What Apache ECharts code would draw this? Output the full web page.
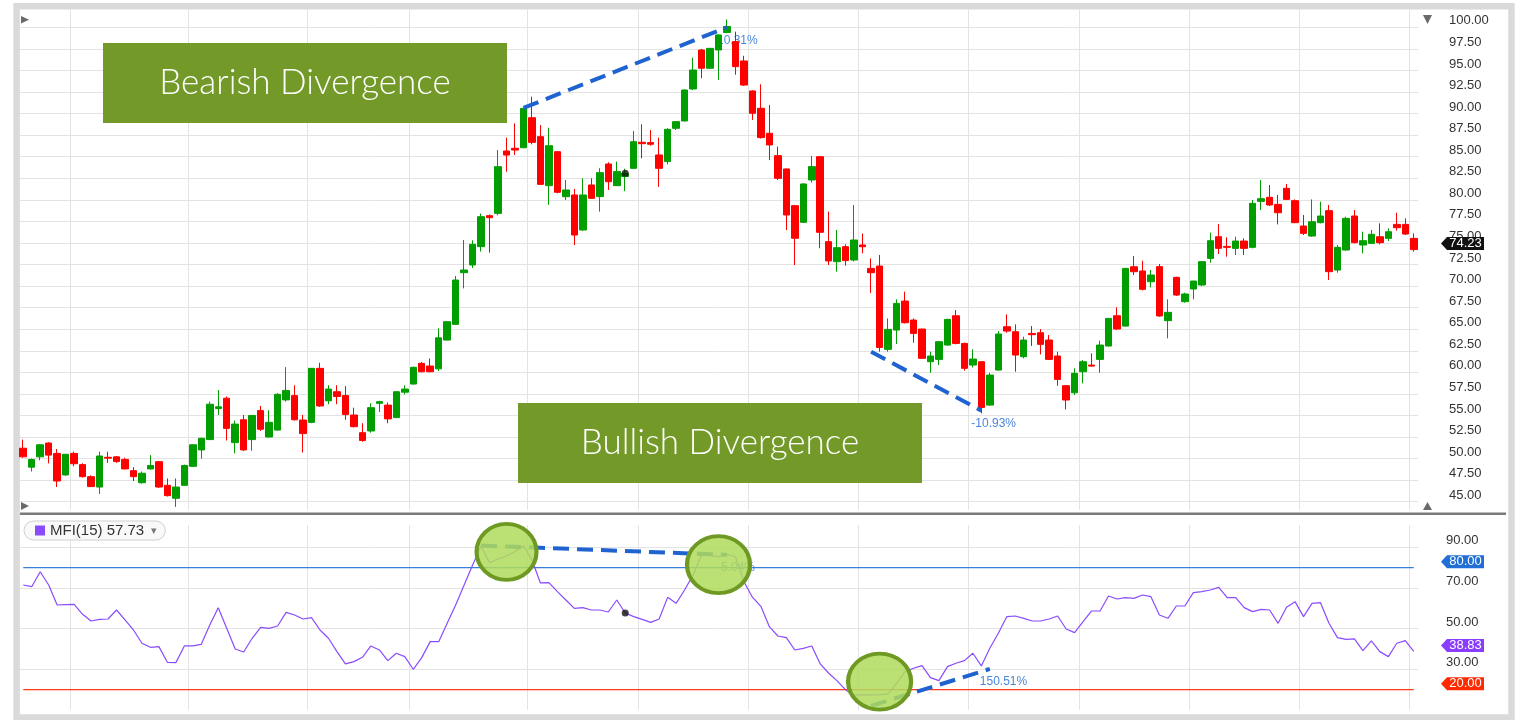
<!DOCTYPE html>
<html>
<head>
<meta charset="utf-8">
<title>MFI divergence</title>
<script src="https://cdn.jsdelivr.net/npm/echarts@6/dist/echarts.min.js"></script>
<style>
  html, body { margin: 0; padding: 0; background: #fff; }
  #chart { width: 1516px; height: 720px; }
</style>
</head>
<body>
<div id="chart"></div>
<script>
// daily candles, oldest first
const openPx = [
  51.2, 49.0, 50.2, 51.8, 50.6, 48.1, 50.6, 49.3, 47.9, 46.7,
  50.15, 50.2, 49.9, 48.6, 47.2, 48.8, 49.64, 46.9, 45.4, 46.9,
  49.1, 51.0, 52.2, 55.8, 57.0, 51.85, 54.5, 52.2, 55.56, 52.5,
  53.3, 56.8, 57.3, 54.47, 54.2, 60.46, 56.7, 57.75, 57.3, 55.05,
  53.0, 53.2, 56.4, 56.2, 54.75, 57.7, 58.64, 61.04, 60.73, 60.4,
  63.74, 65.56, 71.55, 72.44, 74.57, 78.16, 78.43, 85.66, 85.97, 86.04,
  89.52, 87.32, 81.64, 85.58, 80.36, 80.56, 76.5, 81.72, 80.37, 84.15,
  81.64, 82.7, 83.65, 86.67, 86.63, 85.2, 84.43, 88.29, 89.14, 92.85,
  97.37, 95.25, 97.37, 99.4, 98.34, 96.1, 92.62, 90.61, 87.71, 85.12,
  83.58, 79.32, 77.39, 82.3, 85.0, 75.15, 72.83, 74.57, 73.02, 74.76,
  72.05, 72.32, 62.66, 64.9, 68.26, 66.06, 65.02, 61.23, 61.5, 63.16,
  66.56, 63.35, 60.84, 61.23, 56.2, 60.26, 65.29, 64.71, 61.81, 64.51,
  64.59, 63.74, 61.89, 58.45, 57.63, 60.07, 60.84, 61.5, 63.05, 66.56,
  65.36, 72.24, 71.75, 70.5, 72.25, 65.99, 71.01, 68.19, 69.66, 70.12,
  73.21, 75.72, 74.6, 74.37, 75.22, 74.49, 79.82, 80.29, 79.47, 81.33,
  79.9, 76.96, 75.8, 77.35, 78.74, 71.86, 74.18, 78.12, 74.76, 74.95,
  75.72, 75.53, 77.15, 77.15, 75.53
];
const closePx = [
  50.2, 49.9, 51.6, 50.4, 47.4, 50.5, 49.4, 47.9, 46.75, 50.3,
  50.05, 49.65, 48.8, 47.9, 48.3, 49.2, 46.7, 45.7, 46.7, 49.2,
  51.6, 52.35, 56.3, 56.0, 53.5, 54.0, 51.0, 55.0, 53.4, 54.2,
  57.45, 57.9, 54.5, 52.9, 60.46, 56.1, 58.06, 57.2, 55.1, 53.7,
  52.1, 55.9, 56.6, 54.6, 57.75, 58.06, 60.58, 60.07, 60.07, 64.0,
  65.87, 70.7, 71.86, 74.84, 78.04, 77.93, 83.84, 85.19, 85.77, 90.6,
  86.66, 81.79, 86.27, 80.87, 81.14, 75.92, 80.56, 80.17, 83.15, 82.1,
  83.27, 83.07, 86.74, 86.51, 86.44, 83.65, 88.17, 89.06, 92.73, 95.05,
  95.25, 97.56, 99.11, 100.1, 95.44, 93.3, 90.03, 87.21, 86.36, 82.49,
  78.24, 75.54, 81.84, 83.85, 76.23, 72.91, 74.45, 72.95, 75.34, 74.56,
  71.55, 62.89, 64.98, 67.99, 65.75, 64.51, 61.62, 61.89, 63.55, 66.14,
  63.35, 60.46, 61.54, 55.93, 59.68, 64.44, 64.78, 62.0, 63.74, 64.36,
  63.24, 61.5, 59.18, 56.79, 59.88, 61.23, 60.72, 63.16, 66.25, 65.02,
  72.05, 71.66, 69.62, 71.28, 66.53, 66.95, 68.96, 69.08, 70.58, 72.83,
  75.26, 74.37, 74.49, 75.22, 74.37, 79.59, 80.13, 79.4, 78.5, 80.05,
  77.35, 76.11, 77.46, 78.12, 71.67, 74.49, 77.85, 75.03, 75.26, 76.0,
  75.03, 76.3, 76.77, 76.03, 74.23
];
const lowPx = [
  50.1, 48.5, 49.8, 49.45, 46.7, 48.0, 49.1, 47.8, 46.7, 45.9,
  49.5, 49.5, 48.75, 47.4, 47.1, 48.75, 46.6, 45.6, 44.4, 46.85,
  49.05, 50.0, 52.15, 55.05, 52.1, 50.6, 50.9, 50.9, 53.2, 52.45,
  53.24, 56.6, 54.4, 50.7, 54.1, 56.0, 56.3, 56.3, 54.5, 53.6,
  51.95, 53.0, 55.4, 54.1, 54.7, 57.45, 58.6, 60.0, 60.0, 60.15,
  63.7, 65.5, 69.73, 72.1, 74.0, 73.87, 78.2, 83.26, 85.19, 86.0,
  86.43, 81.7, 79.4, 80.75, 79.98, 74.76, 76.4, 80.1, 78.63, 81.14,
  81.6, 81.0, 83.6, 84.81, 86.28, 81.5, 84.1, 88.1, 89.1, 92.73,
  94.1, 95.2, 93.9, 99.3, 94.5, 93.2, 89.26, 87.1, 84.6, 82.3,
  76.5, 72.44, 77.3, 82.0, 74.38, 72.44, 71.67, 72.37, 72.85, 73.8,
  69.2, 62.4, 62.4, 63.28, 65.67, 63.43, 61.55, 59.95, 60.84, 63.1,
  63.24, 60.19, 60.57, 55.24, 56.1, 60.2, 64.59, 60.07, 61.62, 63.05,
  62.08, 61.43, 58.45, 55.7, 57.36, 58.72, 60.65, 59.95, 63.0, 64.9,
  65.3, 71.28, 69.5, 69.85, 66.45, 63.94, 68.85, 68.07, 68.46, 70.0,
  72.71, 73.72, 73.41, 73.6, 73.6, 74.37, 78.82, 79.28, 77.15, 79.98,
  77.3, 75.92, 75.72, 77.27, 70.7, 71.55, 74.1, 74.95, 73.79, 74.87,
  74.83, 75.22, 76.42, 75.92, 73.99
];
const highPx = [
  52.2, 50.0, 51.7, 51.9, 51.1, 50.5, 50.8, 49.45, 48.06, 50.8,
  50.8, 50.3, 50.1, 49.0, 48.5, 50.4, 49.7, 47.7, 47.7, 49.3,
  51.65, 52.4, 56.6, 57.95, 57.2, 54.4, 55.05, 55.05, 56.1, 55.6,
  57.57, 60.6, 58.5, 55.05, 60.5, 61.1, 58.5, 58.5, 58.4, 55.9,
  54.1, 56.4, 56.7, 56.5, 57.8, 58.5, 60.65, 61.2, 61.6, 65.1,
  65.9, 71.16, 75.34, 75.3, 78.4, 78.3, 85.77, 87.2, 88.86, 90.65,
  91.96, 88.67, 88.36, 85.66, 82.3, 81.26, 82.5, 82.5, 83.65, 84.35,
  84.43, 83.6, 87.98, 88.75, 88.1, 87.2, 88.3, 89.14, 92.8, 96.48,
  97.5, 97.6, 99.2, 100.9, 99.5, 96.7, 92.7, 93.39, 91.0, 86.16,
  83.6, 79.4, 81.9, 85.08, 85.05, 78.63, 76.5, 74.84, 79.4, 76.1,
  73.2, 73.6, 66.25, 68.46, 69.35, 66.25, 65.05, 62.4, 63.6, 66.2,
  67.22, 63.43, 62.66, 61.3, 59.95, 64.78, 66.72, 65.56, 64.13, 65.36,
  65.02, 64.32, 62.39, 58.5, 60.46, 61.42, 62.2, 63.66, 66.3, 67.53,
  72.1, 73.48, 72.94, 71.86, 72.56, 68.46, 71.09, 69.23, 70.6, 72.9,
  76.19, 77.19, 75.65, 75.72, 75.53, 79.98, 82.3, 81.72, 80.56, 81.83,
  80.05, 78.24, 80.05, 79.78, 79.4, 74.76, 78.04, 78.82, 76.3, 76.5,
  77.27, 76.69, 78.5, 77.85, 76.11
];
// Money Flow Index (15)
const mfi = [
  71.48, 70.66, 78.03, 71.48, 61.65, 61.81, 61.97, 57.06, 53.78, 54.6,
  54.77, 59.19, 54.28, 49.36, 42.81, 40.85, 41.17, 33.47, 33.31, 41.5,
  41.5, 42.32, 51.82, 60.34, 50.18, 40.02, 38.55, 45.27, 50.67, 50.18,
  51.33, 58.04, 56.73, 54.77, 55.42, 49.36, 45.27, 38.72, 32.66, 33.8,
  35.93, 41.5, 39.53, 34.29, 37.9, 36.26, 30.03, 35.77, 43.63, 43.63,
  52.64, 61.65, 71.48, 81.3, 90.64, 82.45, 84.25, 85.73, 88.0, 90.8,
  83.76, 72.5, 72.62, 68.2, 64.1, 60.01, 60.34, 59.19, 59.19, 58.21,
  64.1, 57.73, 55.91, 54.6, 53.13, 54.77, 65.41, 62.47, 69.02, 76.39,
  86.22, 85.89, 85.4, 86.55, 85.4, 73.11, 65.5, 61.0, 51.0, 46.41,
  45.6, 39.53, 40.35, 41.5, 32.66, 28.07, 24.3, 19.88, 17.42, 17.42,
  17.42, 17.6, 17.9, 23.15, 28.89, 30.53, 31.84, 25.94, 24.46, 31.34,
  32.98, 34.29, 37.9, 31.67, 40.35, 47.72, 55.91, 56.24, 55.1, 53.78,
  53.78, 54.77, 56.24, 49.85, 48.05, 53.46, 58.7, 58.7, 66.07, 64.6,
  65.25, 64.92, 66.56, 65.74, 56.73, 55.1, 61.16, 61.16, 67.71, 68.2,
  69.02, 70.33, 65.25, 65.25, 60.34, 58.37, 59.52, 59.19, 52.64, 60.5,
  63.29, 55.91, 62.47, 62.8, 52.64, 45.6, 44.77, 44.94, 39.2, 43.96,
  38.72, 36.26, 42.81, 44.12, 38.83
];

// candle indexes where the period gridlines fall
const periodBreaks = [6, 20, 34, 46, 60, 73, 86, 99, 112, 125, 138, 151, 164];
const overbought = 80;
const oversold = 20;

// divergence trend lines: [candle index, value] pairs
const bearishPrice = [[59, 90.65], [83, 100.0]];
const bullishPrice = [[100, 62.38], [113, 55.56]];
const bearishMfi = [[54, 90.9], [83, 86.32]];
const bullishMfi = [[100, 12.05], [114, 30.186]];
const mfiCircles = [[57, 87.8], [82, 81.5], [101, 24]];
const cursorIndex = 71;

const UP = '#009e00';
const DOWN = '#ff0000';
const PURPLE = '#8a4bff';
const DASH = { color: '#1f63d0', width: 4, type: [16, 8], cap: 'butt' };
const FONT = '"Liberation Sans", Arial, sans-serif';
const circleSizes = [[60, 56], [63, 57], [63, 56]];

const categories = openPx.map((_, i) => String(i));
const candles = openPx.map((o, i) => [o, closePx[i], lowPx[i], highPx[i]]);
const lastIdx = closePx.length - 1;

const seg = s => [{ coord: s[0] }, { coord: s[1] }];
const pct = s => ((s[1][1] / s[0][1] - 1) * 100).toFixed(2) + '%';

function xAxisFor(grid, withLines) {
  return {
    type: 'category', gridIndex: grid, data: categories, boundaryGap: true,
    axisLine: { show: false }, axisTick: { show: false }, axisLabel: { show: false },
    splitLine: withLines ? {
      show: true,
      // index 0 is the panel edge, hidden by showMinLine
      interval: i => i === 0 || periodBreaks.includes(i),
      showMinLine: false, showMaxLine: false,
      lineStyle: { color: '#e3e3e3', width: 1 }
    } : { show: false }
  };
}

// horizontal reference level on the MFI panel, first to last candle
function levelSeries(name, value, color) {
  return {
    name, type: 'line', xAxisIndex: 2, yAxisIndex: 2, z: 3, silent: true,
    data: [[0, value], [lastIdx, value]], showSymbol: false,
    lineStyle: { color, width: 1.2 }, itemStyle: { color }
  };
}

const option = {
  animation: false,
  backgroundColor: '#ffffff',
  textStyle: { fontFamily: FONT },
  grid: [
    { left: 19, right: 98, top: 27.3, height: 474.4 },
    { left: 19, right: 98, top: 10, height: 500 },
    { left: 19, right: 98, top: 525, height: 185 }
  ],
  xAxis: [xAxisFor(0, false), xAxisFor(1, true), xAxisFor(2, true)],
  yAxis: [
    {
      type: 'value', gridIndex: 0, position: 'right', min: 45, max: 100, interval: 2.5,
      axisLine: { show: false }, axisTick: { show: false },
      axisLabel: { margin: 31, fontSize: 13, color: '#333', verticalAlign: 'bottom', formatter: v => v.toFixed(2) },
      splitLine: { lineStyle: { color: '#e3e3e3', width: 1 } }
    },
    { type: 'value', gridIndex: 1, show: false },
    {
      type: 'value', gridIndex: 2, position: 'right', min: 10, max: 101, interval: 20,
      axisLine: { show: false }, axisTick: { show: false },
      axisLabel: { margin: 28, fontSize: 13, color: '#333', verticalAlign: 'bottom', showMinLabel: false, showMaxLabel: false, formatter: v => v.toFixed(2) },
      splitLine: { showMinLine: false, showMaxLine: false, lineStyle: { color: '#e3e3e3', width: 1 } }
    }
  ],
  legend: {
    left: 24, top: 521,
    data: [{ name: 'MFI(15)', icon: 'rect' }],
    itemWidth: 10, itemHeight: 10,
    padding: [2, 8, 2, 11],
    borderColor: '#cfcfcf', borderWidth: 1, borderRadius: 10, backgroundColor: '#f9f9f9',
    selectedMode: false,
    formatter: name => name + ' ' + mfi[cursorIndex].toFixed(2) + ' {arrow|▾}',
    textStyle: { fontSize: 15, color: '#333', fontFamily: FONT, rich: { arrow: { fontSize: 11, color: '#777', padding: [0, 0, 0, 3] } } }
  },
  series: [
    {
      name: 'Price', type: 'candlestick', xAxisIndex: 0, yAxisIndex: 0,
      data: candles, barWidth: 7, clip: false,
      itemStyle: { color: UP, color0: DOWN, borderColor: UP, borderColor0: DOWN, borderWidth: 1 },
      markLine: {
        silent: true, symbol: ['none', 'none'], label: { show: false },
        lineStyle: DASH,
        data: [seg(bearishPrice), seg(bullishPrice)]
      }
    },
    {
      name: 'cursor', type: 'scatter', xAxisIndex: 0, yAxisIndex: 0, z: 6,
      data: [[cursorIndex, closePx[cursorIndex]]], symbolSize: 7, itemStyle: { color: '#111' }
    },
    levelSeries('overbought', overbought, '#3a7fd8'),
    levelSeries('oversold', oversold, '#ff3a1a'),
    {
      name: 'MFI(15)', type: 'line', xAxisIndex: 2, yAxisIndex: 2, z: 4,
      data: mfi, showSymbol: false,
      lineStyle: { color: PURPLE, width: 1.2 }, itemStyle: { color: PURPLE },
      markLine: {
        silent: true, symbol: ['none', 'none'], label: { show: false },
        lineStyle: DASH,
        data: [seg(bearishMfi), seg(bullishMfi)]
      }
    },
    {
      name: 'highlight', type: 'scatter', xAxisIndex: 2, yAxisIndex: 2, z: 8, silent: true,
      data: mfiCircles.map((c, i) => ({ value: c, symbolSize: circleSizes[i] })),
      itemStyle: { color: 'rgba(176,219,92,0.86)', borderColor: '#6e9a23', borderWidth: 4, opacity: 1 }
    },
    {
      name: 'cursorMfi', type: 'scatter', xAxisIndex: 2, yAxisIndex: 2, z: 9,
      data: [[cursorIndex, mfi[cursorIndex]]], symbolSize: 7, itemStyle: { color: '#111' }
    }
  ]
};

const chart = echarts.init(document.getElementById('chart'));
chart.setOption(option);

const toPx = (grid, p) => chart.convertToPixel({ gridIndex: grid }, p);
const yOf = (axis, v) => chart.convertToPixel({ yAxisIndex: axis }, v);

// value tags on the right axis, drawn just above their level like the tick labels
function tag(y, text, color) {
  const yc = y - 6;
  return [
    { type: 'polygon', z: 60, shape: { points: [[1441, yc], [1447, yc - 6.5], [1484, yc - 6.5], [1484, yc + 6.5], [1447, yc + 6.5]] }, style: { fill: color } },
    { type: 'text', z: 61, x: 1465.5, y: yc, style: { text, fill: '#fff', fontSize: 13, fontFamily: FONT, align: 'center', verticalAlign: 'middle' } }
  ];
}

function pctLabel(grid, s) {
  const p = toPx(grid, s[1]);
  return { type: 'text', z: 0, x: p[0] - 10, y: p[1] + 13, style: { text: pct(s), fill: '#4a86dc', fontSize: 12, fontFamily: FONT, align: 'left', verticalAlign: 'middle' } };
}

function banner(x, y, text) {
  return [
    { type: 'rect', z: 100, shape: { x, y, width: 404, height: 80 }, style: { fill: '#739a29' } },
    { type: 'text', z: 101, x: x + 202, y: y + 40, style: { text, fill: '#fff', fontSize: 35, fontWeight: 300, fontFamily: 'Lato, "Open Sans", sans-serif', align: 'center', verticalAlign: 'middle' } }
  ];
}

const tri = pts => ({ type: 'polygon', z: 60, shape: { points: pts }, style: { fill: '#6a6a6a' } });

chart.setOption({
  graphic: [
    { type: 'rect', z: 0, shape: { x: 16.6, y: 6.3, width: 1494.9, height: 711.2 }, style: { fill: 'none', stroke: '#dadada', lineWidth: 6.5 } },
    { type: 'rect', z: 50, shape: { x: 20, y: 512.5, width: 1486, height: 2.5 }, style: { fill: '#7b7b7b' } },
    tri([[21, 16], [29, 19.7], [21, 23.4]]),
    tri([[21, 502], [29, 506], [21, 510]]),
    tri([[1423, 15], [1432, 15], [1427.5, 24]]),
    tri([[1423, 510], [1432, 510], [1427.5, 502]]),
    ...banner(103, 43, 'Bearish Divergence'),
    ...banner(518, 403, 'Bullish Divergence'),
    pctLabel(0, bearishPrice),
    pctLabel(0, bullishPrice),
    pctLabel(2, bearishMfi),
    pctLabel(2, bullishMfi),
    ...tag(yOf(0, closePx[lastIdx]), closePx[lastIdx].toFixed(2), '#111'),
    ...tag(yOf(2, overbought), overbought.toFixed(2), '#1f6fd6'),
    ...tag(yOf(2, mfi[lastIdx]), mfi[lastIdx].toFixed(2), '#8a3dff'),
    ...tag(yOf(2, oversold), oversold.toFixed(2), '#ff2a00')
  ]
});
</script>
</body>
</html>
